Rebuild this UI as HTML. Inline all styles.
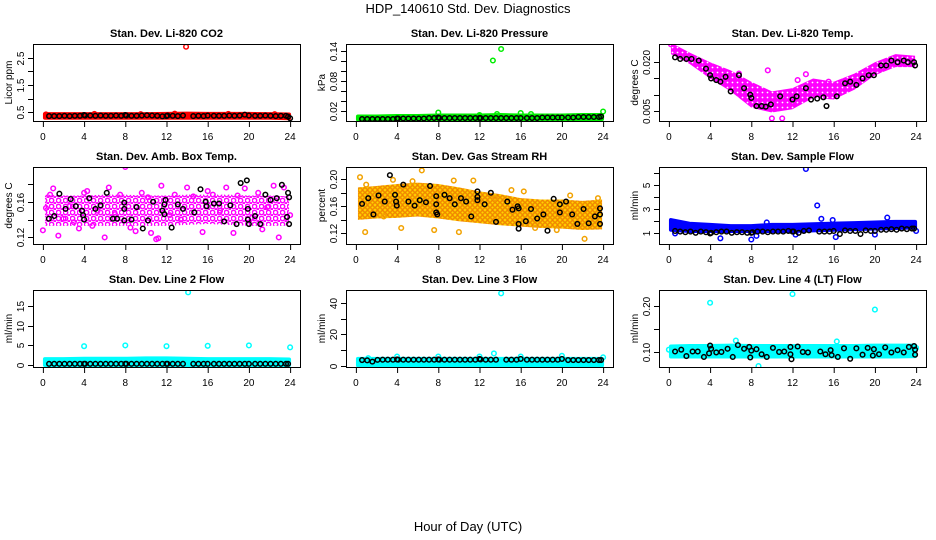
<!DOCTYPE html>
<html><head><meta charset="utf-8"><style>
html,body{margin:0;padding:0;background:#fff;}
svg{display:block;font-family:"Liberation Sans",Arial,sans-serif;}
</style></head><body>
<svg id="chart" width="936" height="540" viewBox="0 0 936 540">
<defs>
<pattern id="patMag" width="7" height="6" patternUnits="userSpaceOnUse">
<rect width="7" height="6" fill="#fff"/>
<circle cx="2.5" cy="2.5" r="2.2" fill="none" stroke="#ff00ff" stroke-width="1.5"/>
<circle cx="6" cy="5.5" r="1.5" fill="#ff00ff"/>
</pattern>
<pattern id="patMag2" width="5" height="5" patternUnits="userSpaceOnUse">
<rect width="5" height="5" fill="#ff00ff"/>
<circle cx="2.5" cy="2.5" r="0.9" fill="#fff"/>
</pattern>
<pattern id="patRH" width="5" height="5" patternUnits="userSpaceOnUse">
<rect width="5" height="5" fill="#ffd400"/>
<circle cx="2.5" cy="2.5" r="1.8" fill="none" stroke="#f08000" stroke-width="1.3"/>
</pattern>
</defs>
<text x="468" y="13" text-anchor="middle" font-size="13">HDP_140610  Std. Dev. Diagnostics</text>
<text x="468" y="531" text-anchor="middle" font-size="13">Hour of Day (UTC)</text>
</svg>
<script>
// ---- data ----
const xTicks = [0,4,8,12,16,20,24];
const bandHours = [0,2,4,6,8,10,12,14,16,18,20,22,24];

const titles = ["Stan. Dev. Li-820 CO2","Stan. Dev. Li-820 Pressure","Stan. Dev. Li-820 Temp.","Stan. Dev. Amb. Box Temp.","Stan. Dev. Gas Stream RH","Stan. Dev. Sample Flow","Stan. Dev. Line 2 Flow","Stan. Dev. Line 3 Flow","Stan. Dev. Line 4 (LT) Flow"];
const yLabels = ["Licor ppm","kPa","degrees C","degrees C","percent","ml/min","ml/min","ml/min","ml/min"];
const colors = ["#ff0000","#00ee00","#ff00ff","#ff00ff","#f2a200","#0000ff","#00ffff","#00ffff","#00ffff"];
const bandFills = ["#ff0000","#00ee00","url(#patMag2)","url(#patMag)","url(#patRH)","#0000ff","#00ffff","#00ffff","#00ffff"];
const yLims = [[0.18,3.0],[0.0,0.154],[0.0019,0.0256],[0.1126,0.199],[0.1044,0.218],[0.13,6.46],[-0.5,19.1],[-0.6,48.1],[0.066,0.235]];
const yTickVals = [[0.5,1,1.5,2,2.5],[0.02,0.04,0.06,0.08,0.1,0.12,0.14],[0.005,0.01,0.015,0.02],[0.12,0.14,0.16,0.18],[0.12,0.14,0.16,0.18,0.2],[1,2,3,4,5,6],[0,5,10,15],[0,10,20,30,40],[0.1,0.15,0.2]];
const yTickLabels = [["0.5","","1.5","","2.5"],["0.02","","","0.08","","","0.14"],["0.005","","","0.020"],["0.12","","0.16",""],["0.12","","0.16","","0.20"],["1","","3","","5",""],["0","5","10","15"],["0","","20","","40"],["0.10","","0.20"]];

// colored cloud bands (low / high at bandHours)
const bandLo = [
 [0.30,0.30,0.30,0.30,0.30,0.30,0.30,0.30,0.30,0.30,0.30,0.30,0.28],
 [0.003,0.003,0.003,0.003,0.003,0.003,0.003,0.003,0.003,0.003,0.003,0.003,0.004],
 [0.0225,0.0195,0.0150,0.0110,0.0060,0.0045,0.0055,0.0090,0.0085,0.0115,0.0160,0.0185,0.0185],
 [0.133,0.133,0.133,0.133,0.133,0.133,0.133,0.134,0.135,0.134,0.133,0.133,0.133],
 [0.140,0.142,0.143,0.145,0.142,0.138,0.135,0.132,0.130,0.128,0.127,0.125,0.126],
 [1.3,1.2,1.2,1.2,1.2,1.2,1.2,1.25,1.3,1.35,1.4,1.45,1.5],
 [0.0,0.0,0.0,0.0,0.0,0.0,0.0,0.0,0.0,0.0,0.0,0.0,0.0],
 [0.5,0.5,0.5,0.5,0.5,0.5,0.5,0.5,0.5,0.5,0.5,0.5,0.5],
 [0.089,0.089,0.089,0.089,0.089,0.089,0.089,0.089,0.089,0.089,0.089,0.089,0.090]];
const bandHi = [
 [0.43,0.43,0.43,0.43,0.43,0.43,0.44,0.45,0.44,0.44,0.44,0.43,0.42],
 [0.009,0.009,0.010,0.010,0.011,0.011,0.011,0.012,0.011,0.011,0.011,0.012,0.012],
 [0.0260,0.0230,0.0200,0.0175,0.0140,0.0110,0.0120,0.0150,0.0140,0.0165,0.0200,0.0225,0.0220],
 [0.168,0.167,0.167,0.168,0.168,0.167,0.167,0.168,0.168,0.168,0.167,0.167,0.166],
 [0.188,0.190,0.193,0.195,0.193,0.188,0.182,0.178,0.172,0.170,0.170,0.168,0.170],
 [2.1,1.8,1.7,1.6,1.6,1.7,1.7,1.75,1.8,1.85,1.9,1.95,1.95],
 [1.5,1.5,1.6,1.6,1.6,1.7,1.7,1.6,1.5,1.5,1.5,1.5,1.4],
 [4.5,4.5,4.5,4.5,4.5,4.5,4.5,4.5,4.5,4.5,4.5,4.5,4.5],
 [0.111,0.112,0.112,0.113,0.112,0.112,0.112,0.112,0.112,0.112,0.113,0.113,0.113]];

// colored scattered points
const colX = [
 [13.9,0.3,5.0,9.5,12.8,18.0,22.5],
 [13.3,14.1,8.0,24.0,12.0,16.0,17.0,13.7],
 [10.0,11.0,13.3,6.8,0.2,15.5,9.6,12.5],
 [0.0,0.3,0.7,1.0,1.5,2.0,2.6,3.0,3.5,4.0,4.3,4.8,5.3,6.0,6.4,7.0,7.5,8.0,8.5,9.0,9.6,10.2,10.5,11.0,11.2,11.5,12.3,12.8,13.4,14.0,14.6,15.5,16.0,16.5,17.2,17.8,18.5,18.9,19.6,20.3,20.9,21.3,21.8,22.4,22.9,23.4,24.0],
 [0.4,2.7,6.4,11.4,10.0,22.2,9.5,13.5,16.3,1.0,3.6,4.4,7.6,15.1,19.5,20.8,23.5,17.4,0.9,5.5],
 [13.3,14.4,14.8,5.0,8.0,8.5,16.2,20.0,21.2,15.9,9.5,12.3,0.6,24.0],
 [4.0,8.0,12.0,14.1,16.0,20.0,24.0],
 [14.1,13.4,4.0,8.0,12.0,16.0,20.0,24.0,1.2],
 [4.0,12.0,20.0,8.7,6.5,16.3,0.0,24.0]];
const colY = [
 [2.9,0.42,0.44,0.43,0.45,0.44,0.43],
 [0.121,0.144,0.017,0.019,0.012,0.016,0.014,0.014],
 [0.0027,0.0027,0.0163,0.0165,0.0255,0.0140,0.0175,0.0145],
 [0.128,0.153,0.168,0.175,0.122,0.141,0.155,0.137,0.130,0.170,0.172,0.133,0.150,0.120,0.176,0.146,0.168,0.199,0.131,0.127,0.170,0.165,0.125,0.118,0.119,0.178,0.145,0.168,0.140,0.176,0.166,0.126,0.172,0.168,0.150,0.176,0.125,0.167,0.175,0.142,0.170,0.129,0.154,0.178,0.120,0.176,0.145],
 [0.203,0.145,0.213,0.198,0.122,0.112,0.198,0.172,0.182,0.192,0.199,0.128,0.125,0.184,0.125,0.176,0.172,0.128,0.122,0.197],
 [6.3,3.3,2.2,0.6,0.5,0.8,0.7,0.9,2.3,2.1,1.9,0.9,1.0,1.2],
 [4.8,5.0,4.8,18.5,4.9,5.0,4.5],
 [46,8,6,6,6,6,6.5,5.5,5.0],
 [0.207,0.226,0.192,0.068,0.124,0.122,0.104,0.108]];

// black points
const blkX = [
 [0.6,1.1,1.6,2.1,2.6,3.1,3.6,4.0,4.1,4.6,5.1,5.6,6.1,6.6,7.1,7.6,8.0,8.1,8.6,9.1,9.6,10.1,10.6,11.1,11.6,12.0,12.1,12.6,13.1,13.6,14.6,15.1,15.6,16.0,16.6,17.1,17.6,18.1,18.6,19.1,19.6,20.0,20.6,21.1,21.6,22.1,22.6,23.1,23.6,23.8,24.0],
 [0.6,1.1,1.6,2.1,2.6,3.1,3.6,4.0,4.1,4.6,5.1,5.6,6.1,6.6,7.1,7.6,8.0,8.1,8.6,9.1,9.6,10.1,10.6,11.1,11.6,12.0,12.1,12.6,13.1,13.6,14.1,14.6,15.1,15.6,16.0,16.6,17.1,17.6,18.1,18.6,19.1,19.6,20.0,20.6,21.1,21.6,22.1,22.6,23.1,23.6,23.8],
 [0.6,1.1,1.7,2.2,2.9,3.6,4.0,4.1,4.6,5.0,5.5,6.0,6.8,7.3,7.9,8.0,8.5,9.0,9.4,9.9,10.8,12.0,12.4,13.3,13.8,14.4,15.0,15.3,16.3,17.1,17.6,18.2,18.8,19.4,19.9,20.6,21.1,21.6,22.2,22.8,23.2,23.8,23.9],
 [0.58,1.1,1.6,2.2,2.7,3.2,3.8,3.9,4.0,4.5,5.1,5.6,6.2,6.8,7.2,7.9,7.9,7.9,8.6,9.1,9.7,10.2,10.7,11.6,11.8,11.9,11.8,12.5,13.1,13.6,14.7,15.3,15.8,15.9,16.6,17.1,17.6,18.2,18.8,19.2,19.8,19.9,19.9,20.0,20.6,21.1,21.6,22.1,22.7,23.2,23.8,23.9,23.7,23.9],
 [0.6,1.2,1.7,2.2,2.8,3.3,3.8,3.9,3.97,4.6,5.1,5.7,6.2,6.8,7.2,7.8,7.8,7.8,7.9,8.6,9.1,9.6,10.2,10.7,11.2,11.8,11.8,11.8,12.5,13.1,13.6,14.7,15.2,15.7,15.8,15.8,15.8,16.5,17.0,17.6,18.2,18.6,19.2,19.8,19.8,20.4,21.0,21.5,22.1,22.6,23.2,23.7,23.7,23.7],
 [0.6,1.1,1.6,2.1,2.6,3.1,3.6,4.0,4.1,4.6,5.1,5.6,6.1,6.6,7.1,7.6,8.0,8.1,8.6,9.1,9.6,10.1,10.6,11.1,11.6,12.0,12.1,12.6,13.1,13.6,14.6,15.1,15.6,16.0,16.6,17.1,17.6,18.1,18.6,19.1,19.6,20.0,20.6,21.1,21.6,22.1,22.6,23.1,23.6,23.8],
 [0.6,1.1,1.6,2.1,2.6,3.1,3.6,4.0,4.1,4.6,5.1,5.6,6.1,6.6,7.1,7.6,8.0,8.1,8.6,9.1,9.6,10.1,10.6,11.1,11.6,12.0,12.1,12.6,13.1,13.6,14.6,15.1,15.6,16.0,16.6,17.1,17.6,18.1,18.6,19.1,19.6,20.0,20.6,21.1,21.6,22.1,22.6,23.1,23.6,23.8],
 [0.6,1.1,1.6,2.1,2.6,3.1,3.6,4.0,4.1,4.6,5.1,5.6,6.1,6.6,7.1,7.6,8.0,8.1,8.6,9.1,9.6,10.1,10.6,11.1,11.6,12.0,12.1,12.6,13.1,13.6,14.6,15.1,15.6,16.0,16.6,17.1,17.6,18.1,18.6,19.1,19.6,20.0,20.6,21.1,21.6,22.1,22.6,23.1,23.6,23.8],
 [0.6,1.2,1.7,2.3,2.8,3.4,3.9,4.0,4.1,4.6,5.1,5.7,6.2,6.7,7.3,7.8,7.9,8.0,8.5,9.0,9.5,10.1,10.7,11.2,11.8,11.8,11.9,12.5,13.0,13.5,14.7,15.2,15.7,15.8,16.4,17.0,17.6,18.2,18.8,19.3,19.8,19.9,20.4,21.0,21.6,22.2,22.8,23.3,23.8,23.9,23.9]];
const blkY = [
 [0.36,0.36,0.36,0.37,0.36,0.37,0.37,0.40,0.38,0.38,0.37,0.38,0.37,0.37,0.38,0.37,0.40,0.38,0.37,0.37,0.38,0.39,0.38,0.37,0.35,0.36,0.38,0.37,0.36,0.38,0.36,0.37,0.36,0.38,0.37,0.37,0.37,0.38,0.37,0.38,0.41,0.38,0.37,0.37,0.38,0.37,0.36,0.37,0.37,0.34,0.28],
 [0.004,0.004,0.004,0.004,0.004,0.004,0.004,0.005,0.005,0.005,0.005,0.005,0.005,0.005,0.006,0.006,0.007,0.006,0.006,0.006,0.006,0.006,0.006,0.006,0.006,0.006,0.006,0.006,0.006,0.006,0.006,0.006,0.006,0.006,0.006,0.006,0.006,0.006,0.007,0.007,0.007,0.007,0.007,0.007,0.007,0.008,0.008,0.008,0.008,0.008,0.009],
 [0.0215,0.021,0.021,0.021,0.0205,0.018,0.016,0.015,0.0145,0.014,0.0155,0.011,0.016,0.012,0.010,0.009,0.0065,0.0065,0.0063,0.007,0.0095,0.0085,0.0095,0.012,0.0085,0.0088,0.0092,0.0065,0.0095,0.0135,0.014,0.013,0.015,0.016,0.016,0.019,0.019,0.0205,0.020,0.0205,0.020,0.020,0.019],
 [0.141,0.144,0.169,0.152,0.163,0.155,0.150,0.145,0.140,0.164,0.152,0.156,0.170,0.141,0.141,0.139,0.159,0.152,0.140,0.154,0.130,0.139,0.160,0.150,0.157,0.162,0.146,0.131,0.157,0.152,0.148,0.174,0.160,0.155,0.158,0.158,0.138,0.156,0.135,0.181,0.184,0.152,0.140,0.135,0.144,0.135,0.168,0.162,0.164,0.179,0.170,0.165,0.143,0.135],
 [0.1636,0.172,0.148,0.176,0.167,0.206,0.177,0.167,0.161,0.192,0.167,0.161,0.169,0.166,0.190,0.175,0.163,0.151,0.148,0.177,0.172,0.163,0.172,0.167,0.145,0.169,0.182,0.174,0.163,0.180,0.137,0.167,0.155,0.160,0.157,0.134,0.127,0.138,0.156,0.142,0.148,0.124,0.171,0.163,0.151,0.167,0.148,0.134,0.156,0.135,0.145,0.148,0.157,0.134],
 [1.2,1.15,1.1,1.15,1.05,1.15,1.1,1.0,1.05,1.1,1.15,1.15,1.05,1.1,1.1,1.05,1.05,1.1,1.15,1.15,1.1,1.15,1.15,1.15,1.2,1.15,1.15,1.05,1.2,1.25,1.15,1.15,1.15,1.2,0.95,1.25,1.2,1.2,0.95,1.25,1.2,1.2,1.3,1.3,1.35,1.3,1.4,1.35,1.4,1.4],
 [0.3,0.3,0.3,0.3,0.3,0.3,0.3,0.3,0.3,0.3,0.3,0.3,0.3,0.3,0.3,0.3,0.3,0.3,0.3,0.3,0.3,0.3,0.3,0.3,0.3,0.3,0.3,0.3,0.3,0.3,0.3,0.3,0.3,0.3,0.3,0.3,0.3,0.3,0.3,0.3,0.3,0.3,0.3,0.3,0.3,0.3,0.3,0.3,0.3,0.3],
 [3.8,3.6,2.8,3.9,4.0,4.0,4.0,4.2,4.0,4.0,4.0,4.0,4.0,4.0,4.0,4.0,4.2,4.0,4.0,4.0,4.0,4.0,4.0,4.0,4.0,4.5,4.2,4.0,4.0,4.0,4.0,4.0,4.0,4.5,4.0,4.0,4.0,4.0,4.0,4.0,4.0,4.5,3.8,3.8,3.8,3.8,3.8,3.8,3.8,3.8],
 [0.100,0.104,0.090,0.100,0.100,0.088,0.096,0.113,0.106,0.098,0.099,0.106,0.088,0.114,0.106,0.110,0.087,0.102,0.105,0.094,0.088,0.108,0.099,0.100,0.110,0.094,0.083,0.111,0.099,0.098,0.100,0.094,0.103,0.092,0.088,0.107,0.084,0.107,0.093,0.108,0.091,0.105,0.094,0.109,0.098,0.103,0.098,0.110,0.112,0.104,0.093]];

// ---- drawing ----
const NS = "http://www.w3.org/2000/svg";
const svg = document.getElementById("chart");
const colLeft = [33, 346, 659];
const rowTop = [44, 167, 290];
const W = 267, H = 77;
function mk(tag, attrs, parent){
  const e = document.createElementNS(NS, tag);
  for (const k in attrs) e.setAttribute(k, attrs[k]);
  (parent||svg).appendChild(e);
  return e;
}
for (let p = 0; p < 9; p++) {
  const L = colLeft[p % 3], T = rowTop[Math.floor(p / 3)];
  const g = mk("g", {});
  
  
  const xs = h => L + W * (0.04 / 1.08) + (h / 24) * W * (1 / 1.08);
  const [y0, y1] = yLims[p];
  const ys = v => T + H - (v - y0) / (y1 - y0) * H;
  const clip = mk("clipPath", {id: "c" + p}, g);
  mk("rect", {x: L, y: T, width: W, height: H}, clip);
  const plot = mk("g", {"clip-path": "url(#c" + p + ")"}, g);
  // band
  let pts = [];
  for (let i = 0; i < bandHours.length; i++) pts.push(xs(Math.min(Math.max(bandHours[i],0.2),23.9)) + "," + ys(bandHi[p][i]));
  for (let i = bandHours.length - 1; i >= 0; i--) pts.push(xs(Math.min(Math.max(bandHours[i],0.2),23.9)) + "," + ys(bandLo[p][i]));
  const solid = bandFills[p].charAt(0) === "#";
  const band = mk("polygon", {points: pts.join(" "), fill: bandFills[p], stroke: solid ? colors[p] : "none", "stroke-width": 4, "stroke-linejoin": "round"}, plot);
  
  
  for (let i = 0; i < colX[p].length; i++) {
    const c = mk("circle", {cx: xs(colX[p][i]), cy: ys(colY[p][i]), r: 2.3, fill: "none", stroke: colors[p], "stroke-width": 1.5}, plot);
    
    
  }
  for (let i = 0; i < blkX[p].length; i++) {
    const c = mk("circle", {cx: xs(blkX[p][i]), cy: ys(blkY[p][i]), r: 2.3, fill: "none", stroke: "#000", "stroke-width": 1.5}, plot);
    
    
  }
  // box
  const box = mk("rect", {x: L + 0.5, y: T + 0.5, width: W, height: H, fill: "none", stroke: "#000", "stroke-width": 1}, g);
  
  
  // title
  const t = mk("text", {x: L + W / 2, y: T - 7, "text-anchor": "middle", "font-size": 11, "font-weight": "bold"}, g);
  t.textContent = titles[p];
  
  
  // x axis
  for (const h of xTicks) {
    mk("line", {x1: xs(h) + 0.5, x2: xs(h) + 0.5, y1: T + H, y2: T + H + 6, stroke: "#000"}, g);
    const tl = mk("text", {x: xs(h), y: T + H + 19, "text-anchor": "middle", "font-size": 10}, g);
    tl.textContent = h;
    
    
  }
  // y axis
  yTickVals[p].forEach((v, i) => {
    const yy = Math.round(ys(v)) + 0.5;
    mk("line", {x1: L - 5, x2: L, y1: yy, y2: yy, stroke: "#000"}, g);
    if (yTickLabels[p][i]) {
      const tl = mk("text", {x: 0, y: 0, "text-anchor": "middle", "font-size": 10, transform: "translate(" + (L - 9) + "," + yy + ") rotate(-90)"}, g);
      tl.textContent = yTickLabels[p][i];
      
      
    }
  });
  const yl = mk("text", {x: 0, y: 0, "text-anchor": "middle", "font-size": 10, transform: "translate(" + (L - 21) + "," + (T + H / 2) + ") rotate(-90)"}, g);
  yl.textContent = yLabels[p];
  
  
}
</script>
</body></html>
